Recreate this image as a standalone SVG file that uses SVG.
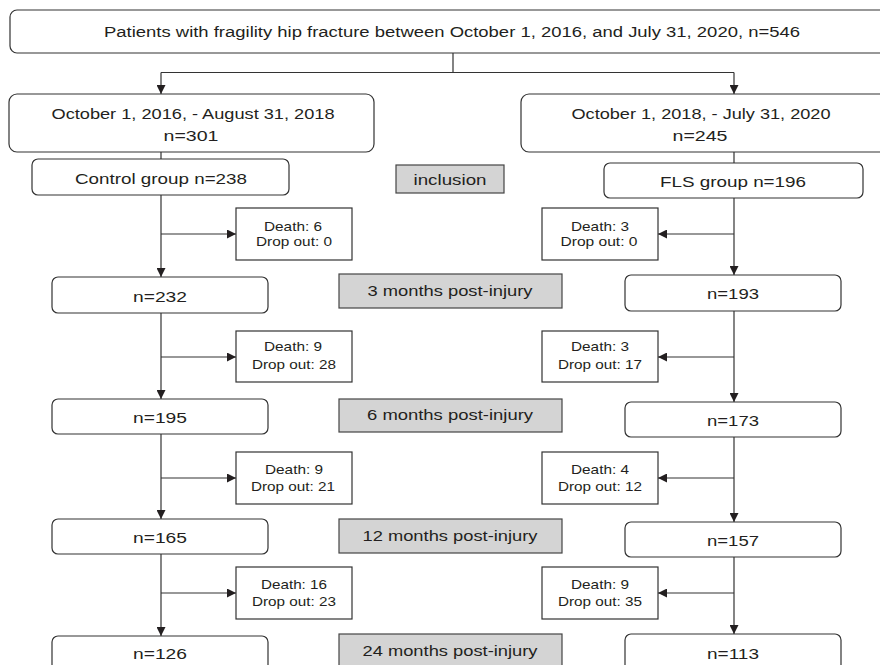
<svg xmlns="http://www.w3.org/2000/svg" width="880" height="665" viewBox="0 0 880 665">
<style>
.box{fill:#fff;stroke:#333;stroke-width:1.2}
.gbox{fill:#d4d4d4;stroke:#444;stroke-width:1.2}
.ln{fill:none;stroke:#333;stroke-width:1.2}
.t{font-family:"Liberation Sans",Arial,sans-serif;font-size:15.5px;fill:#231f20;text-anchor:middle;dominant-baseline:central}
.s{font-family:"Liberation Sans",Arial,sans-serif;font-size:13px;fill:#231f20;text-anchor:middle;dominant-baseline:central}
</style>
<defs>
<marker id="ah" markerUnits="userSpaceOnUse" markerWidth="9" markerHeight="9" refX="9" refY="4.5" orient="auto" viewBox="0 0 9 9">
<path d="M0,0 L9,4.5 L0,9 z" fill="#231f20"/>
</marker>
</defs>
<rect width="880" height="665" fill="#fff"/>

<g id="connectors">
<path class="ln" d="M453,53 V72.5 M161,72.5 H734"/>
<path class="ln" d="M161,72.5 V94" marker-end="url(#ah)"/>
<path class="ln" d="M734,72.5 V94" marker-end="url(#ah)"/>
<path class="ln" d="M161,152 V159 M734,152 V163"/>
<path class="ln" d="M161,195 V277" marker-end="url(#ah)"/>
<path class="ln" d="M161,234 H236" marker-end="url(#ah)"/>
<path class="ln" d="M161,313 V399" marker-end="url(#ah)"/>
<path class="ln" d="M161,357 H236" marker-end="url(#ah)"/>
<path class="ln" d="M161,434 V519" marker-end="url(#ah)"/>
<path class="ln" d="M161,478 H236" marker-end="url(#ah)"/>
<path class="ln" d="M161,554 V636" marker-end="url(#ah)"/>
<path class="ln" d="M161,593 H236" marker-end="url(#ah)"/>
<path class="ln" d="M734,198 V275" marker-end="url(#ah)"/>
<path class="ln" d="M734,234 H658" marker-end="url(#ah)"/>
<path class="ln" d="M734,311 V402" marker-end="url(#ah)"/>
<path class="ln" d="M734,357 H658" marker-end="url(#ah)"/>
<path class="ln" d="M734,437 V522" marker-end="url(#ah)"/>
<path class="ln" d="M734,478 H658" marker-end="url(#ah)"/>
<path class="ln" d="M734,557 V634" marker-end="url(#ah)"/>
<path class="ln" d="M734,593 H658" marker-end="url(#ah)"/>
</g>

<g id="top">
<rect class="box" x="10" y="10" width="890" height="43" rx="7"/>
<text class="t" x="452" y="31" textLength="696" lengthAdjust="spacingAndGlyphs">Patients with fragility hip fracture between October 1, 2016, and July 31, 2020, n=546</text>
</g>
<g id="period1">
<rect class="box" x="9" y="94" width="365" height="58" rx="8"/>
<text class="t" x="193" y="113" textLength="283" lengthAdjust="spacingAndGlyphs">October 1, 2016, - August 31, 2018</text>
<text class="t" x="191" y="135" textLength="55" lengthAdjust="spacingAndGlyphs">n=301</text>
</g>
<g id="period2">
<rect class="box" x="521" y="94" width="370" height="58" rx="8"/>
<text class="t" x="701" y="113" textLength="259" lengthAdjust="spacingAndGlyphs">October 1, 2018, - July 31, 2020</text>
<text class="t" x="700" y="135" textLength="55" lengthAdjust="spacingAndGlyphs">n=245</text>
</g>
<g id="control">
<rect class="box" x="32" y="159" width="257" height="36" rx="6"/>
<text class="t" x="161" y="178" textLength="172" lengthAdjust="spacingAndGlyphs">Control group n=238</text>
</g>
<g id="fls">
<rect class="box" x="604" y="163" width="259" height="35" rx="6"/>
<text class="t" x="733" y="181" textLength="146" lengthAdjust="spacingAndGlyphs">FLS group n=196</text>
</g>
<g id="inclusion">
<rect class="gbox" x="396" y="165" width="108" height="28"/>
<text class="t" x="450" y="179" textLength="73" lengthAdjust="spacingAndGlyphs">inclusion</text>
</g>

<g id="d1l"><rect class="box" x="236" y="208" width="116" height="52"/>
<text class="s" x="293" y="226" textLength="58" lengthAdjust="spacingAndGlyphs">Death: 6</text><text class="s" x="294" y="241" textLength="76" lengthAdjust="spacingAndGlyphs">Drop out: 0</text></g>
<g id="d1r"><rect class="box" x="542" y="208" width="116" height="52"/>
<text class="s" x="600" y="226" textLength="58" lengthAdjust="spacingAndGlyphs">Death: 3</text><text class="s" x="599" y="241" textLength="77" lengthAdjust="spacingAndGlyphs">Drop out: 0</text></g>
<g id="c3"><rect class="box" x="52" y="277" width="216" height="36" rx="6"/>
<text class="t" x="160" y="296" textLength="54" lengthAdjust="spacingAndGlyphs">n=232</text></g>
<g id="f3"><rect class="box" x="625" y="275" width="216" height="36" rx="6"/>
<text class="t" x="733" y="293" textLength="52" lengthAdjust="spacingAndGlyphs">n=193</text></g>
<g id="m3"><rect class="gbox" x="339" y="274" width="223" height="34"/>
<text class="t" x="450" y="290" textLength="165" lengthAdjust="spacingAndGlyphs">3 months post-injury</text></g>

<g id="d2l"><rect class="box" x="236" y="331" width="116" height="51"/>
<text class="s" x="293" y="346" textLength="58" lengthAdjust="spacingAndGlyphs">Death: 9</text><text class="s" x="294" y="364" textLength="84" lengthAdjust="spacingAndGlyphs">Drop out: 28</text></g>
<g id="d2r"><rect class="box" x="542" y="331" width="116" height="51"/>
<text class="s" x="600" y="346" textLength="58" lengthAdjust="spacingAndGlyphs">Death: 3</text><text class="s" x="600" y="364" textLength="84" lengthAdjust="spacingAndGlyphs">Drop out: 17</text></g>
<g id="c6"><rect class="box" x="52" y="399" width="216" height="35" rx="6"/>
<text class="t" x="160" y="417" textLength="54" lengthAdjust="spacingAndGlyphs">n=195</text></g>
<g id="f6"><rect class="box" x="625" y="402" width="216" height="35" rx="6"/>
<text class="t" x="733" y="420" textLength="52" lengthAdjust="spacingAndGlyphs">n=173</text></g>
<g id="m6"><rect class="gbox" x="339" y="399" width="223" height="33"/>
<text class="t" x="450" y="414" textLength="166" lengthAdjust="spacingAndGlyphs">6 months post-injury</text></g>

<g id="d3l"><rect class="box" x="236" y="452" width="116" height="52"/>
<text class="s" x="294" y="469" textLength="58" lengthAdjust="spacingAndGlyphs">Death: 9</text><text class="s" x="293" y="486" textLength="84" lengthAdjust="spacingAndGlyphs">Drop out: 21</text></g>
<g id="d3r"><rect class="box" x="542" y="452" width="116" height="52"/>
<text class="s" x="600" y="469" textLength="58" lengthAdjust="spacingAndGlyphs">Death: 4</text><text class="s" x="600" y="486" textLength="84" lengthAdjust="spacingAndGlyphs">Drop out: 12</text></g>
<g id="c12"><rect class="box" x="52" y="519" width="216" height="35" rx="6"/>
<text class="t" x="160" y="537" textLength="54" lengthAdjust="spacingAndGlyphs">n=165</text></g>
<g id="f12"><rect class="box" x="625" y="522" width="216" height="35" rx="6"/>
<text class="t" x="733" y="540" textLength="52" lengthAdjust="spacingAndGlyphs">n=157</text></g>
<g id="m12"><rect class="gbox" x="339" y="519" width="223" height="34"/>
<text class="t" x="450" y="535" textLength="175" lengthAdjust="spacingAndGlyphs">12 months post-injury</text></g>

<g id="d4l"><rect class="box" x="236" y="567" width="116" height="52"/>
<text class="s" x="294" y="584" textLength="66" lengthAdjust="spacingAndGlyphs">Death: 16</text><text class="s" x="294" y="601" textLength="84" lengthAdjust="spacingAndGlyphs">Drop out: 23</text></g>
<g id="d4r"><rect class="box" x="542" y="567" width="116" height="52"/>
<text class="s" x="600" y="584" textLength="58" lengthAdjust="spacingAndGlyphs">Death: 9</text><text class="s" x="600" y="601" textLength="84" lengthAdjust="spacingAndGlyphs">Drop out: 35</text></g>
<g id="c24"><rect class="box" x="52" y="636" width="216" height="40" rx="6"/>
<text class="t" x="160" y="653" textLength="54" lengthAdjust="spacingAndGlyphs">n=126</text></g>
<g id="f24"><rect class="box" x="625" y="634" width="216" height="40" rx="6"/>
<text class="t" x="733" y="653" textLength="52" lengthAdjust="spacingAndGlyphs">n=113</text></g>
<g id="m24"><rect class="gbox" x="339" y="634" width="223" height="40"/>
<text class="t" x="450" y="650" textLength="175" lengthAdjust="spacingAndGlyphs">24 months post-injury</text></g>
</svg>
